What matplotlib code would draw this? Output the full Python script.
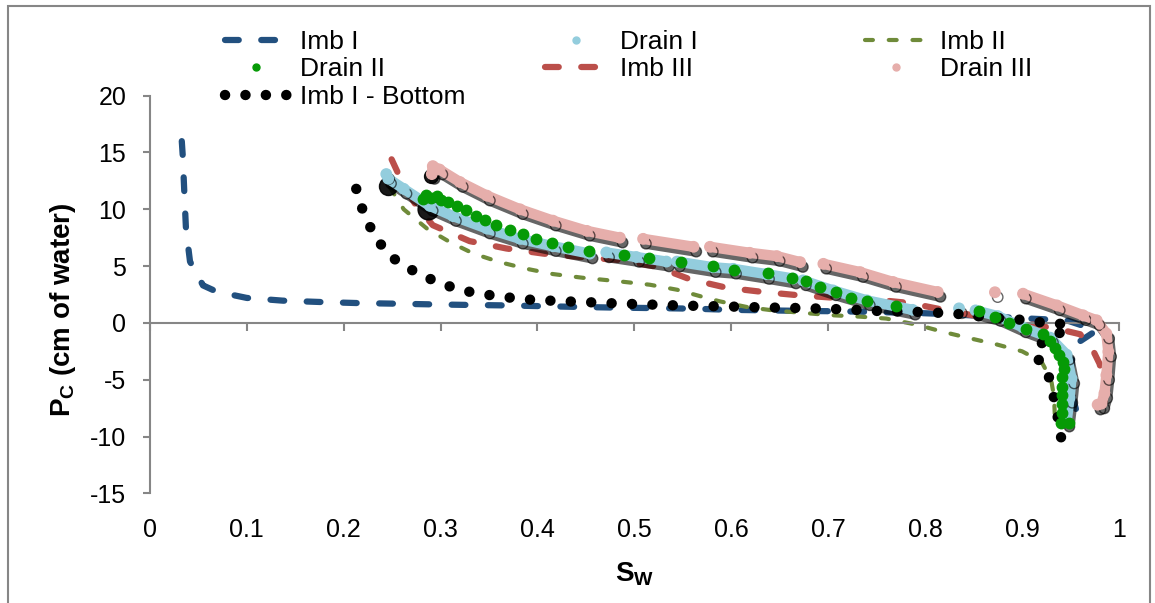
import matplotlib
matplotlib.use("Agg")
from matplotlib import rcParams, pyplot as plt
from matplotlib import patheffects as pe
from matplotlib.lines import Line2D
from matplotlib.patches import Rectangle
from matplotlib.transforms import offset_copy
import numpy as np

rcParams['font.family'] = ['Liberation Sans', 'DejaVu Sans']
rcParams['mathtext.fontset'] = 'custom'
rcParams['mathtext.rm'] = 'Liberation Sans'
rcParams['mathtext.bf'] = 'Liberation Sans:bold'
rcParams['mathtext.it'] = 'Liberation Sans:italic'
rcParams['axes.unicode_minus'] = False

GRAY = "#868686"
NAN = np.nan

# series (Sw, Pc in cm of water); NaN marks gaps in the marker runs
imb_i_sw = [0.033, 0.034, 0.0356, 0.0373, 0.0415, 0.0549, 0.069, 0.100, 0.137, 0.176, 0.213,
            0.255, 0.292, 0.330, 0.368, 0.406, 0.446, 0.485, 0.525, 0.562, 0.600, 0.640,
            0.678, 0.715, 0.753, 0.791, 0.830, 0.870, 0.908, 0.946, 0.977, 0.953, 0.950,
            0.952, 0.957, 0.960]
imb_i_pc = [16.0, 14.7, 11.5, 8.3, 5.4, 3.3, 2.75, 2.2, 1.96, 1.84, 1.75,
            1.69, 1.63, 1.58, 1.54, 1.47, 1.40, 1.34, 1.30, 1.25, 1.15, 1.10,
            1.05, 1.02, 0.95, 0.88, 0.75, 0.55, 0.38, 0.23, -0.65, -2.0, -4.5,
            -6.5, -8.0, -8.6]

drain_i_sw = [0.244, 0.246, 0.262, 0.289, 0.313, 0.348, 0.382, 0.416, 0.454, NAN,
              0.471, 0.502, 0.533, NAN, 0.544, 0.581, 0.602, 0.636, 0.664, NAN,
              0.674, 0.705, 0.740, 0.787, NAN, 0.835, NAN, 0.852, 0.875, 0.901, 0.929,
              0.946, 0.951, 0.949, 0.946]
drain_i_pc = [13.1, 12.7, 11.8, 10.3, 9.4, 8.3, 7.4, 6.75, 6.1, NAN,
              6.2, 5.8, 5.4, NAN, 5.4, 4.9, 4.76, 4.3, 3.9, NAN,
              3.74, 2.86, 1.98, 1.15, NAN, 1.28, NAN, 1.1, 0.6, -0.4, -1.3,
              -2.8, -4.9, -6.6, -8.7]

imb_ii_sw = [0.248, 0.262, 0.286, 0.310, 0.334, 0.361, 0.389, 0.416, 0.447, 0.482, 0.516,
             0.544, 0.568, 0.588, 0.616, 0.643, 0.674, 0.705, 0.733, 0.760, 0.791, 0.819,
             0.846, 0.874, 0.900, 0.920, 0.930, 0.933, 0.934, 0.935]
imb_ii_pc = [11.9, 10.0, 8.3, 7.1, 6.1, 5.35, 4.76, 4.3, 3.97, 3.68, 3.36,
             2.92, 2.35, 1.9, 1.4, 1.1, 0.88, 0.67, 0.55, 0.38, -0.15, -0.8,
             -1.35, -1.9, -2.5, -3.4, -5.0, -6.5, -8.5, -9.0]

drain_ii_sw = [0.282, 0.285, 0.290, 0.296, 0.300, 0.308, 0.317, 0.326, 0.337, 0.346, 0.357,
               0.372, 0.385, 0.399, 0.415, 0.432, 0.453, 0.489, 0.515, 0.548, 0.581, 0.603,
               0.638, 0.663, 0.677, 0.692, 0.708, 0.724, 0.740, 0.770, 0.856, 0.872, 0.887,
               0.904, 0.922, 0.929, 0.934, 0.938, 0.942, 0.943, 0.941, 0.941, 0.941, 0.941,
               0.941, 0.940, 0.948]
drain_ii_pc = [10.9, 11.3, 11.0, 11.2, 10.8, 10.67, 10.3, 9.9, 9.44, 9.06, 8.65,
               8.2, 7.82, 7.42, 7.05, 6.72, 6.37, 6.0, 5.7, 5.35, 5.0, 4.7,
               4.35, 3.97, 3.65, 3.2, 2.72, 2.22, 1.9, 1.46, 1.05, 0.5, 0.0,
               -0.53, -0.97, -1.63, -2.2, -2.8, -3.4, -4.1, -4.8, -5.6, -6.35, -7.1,
               -7.95, -8.83, -8.83]

imb_iii_sw = [0.2495, 0.256, 0.265, 0.275, 0.292, 0.330, 0.368, 0.406, 0.444, 0.482, 0.523,
              0.557, 0.595, 0.633, 0.671, 0.709, 0.746, 0.784, 0.822, 0.860, 0.900, 0.935,
              0.960, 0.972, 0.980, 0.984, 0.985, 0.986]
imb_iii_pc = [14.4, 13.2, 11.7, 10.3, 8.6, 7.2, 6.55, 6.1, 5.8, 5.55, 4.95,
              3.85, 3.1, 2.72, 2.42, 2.2, 2.07, 1.75, 1.1, 0.5, 0.0, -0.5,
              -1.0, -2.2, -3.6, -5.0, -6.5, -7.5]

drain_iii_sw = [0.291, 0.292, 0.299, 0.320, 0.348, 0.382, 0.416, 0.451, 0.485, NAN,
                0.509, 0.561, NAN, 0.578, 0.619, 0.647, 0.671, NAN, 0.695, 0.733, 0.767,
                0.813, NAN, 0.872, NAN, 0.901, 0.936, 0.963, 0.977, 0.987, 0.989, 0.987,
                0.985, 0.982, 0.978]
drain_iii_pc = [13.1, 13.8, 13.5, 12.4, 11.2, 10.0, 9.0, 8.1, 7.5, NAN,
                7.4, 6.7, NAN, 6.7, 6.17, 5.88, 5.35, NAN, 5.2, 4.47, 3.6,
                2.72, NAN, 2.7, NAN, 2.57, 1.54, 0.67, 0.23, -0.94, -2.54, -4.6,
                -6.2, -7.1, -7.2]

bottom_sw = [0.213, 0.219, 0.227, 0.2375, 0.251, 0.268, 0.287, 0.306, 0.326, 0.346, 0.366,
             0.387, 0.408, 0.428, 0.449, 0.470, 0.490, 0.511, 0.552, 0.594, 0.635, 0.676,
             0.717, 0.759, 0.800, 0.841, 0.860, 0.903, 0.923, 0.944, 0.948, 0.920, 0.913,
             0.925, 0.931, 0.934, 0.938, 0.941]
bottom_pc = [11.8, 10.1, 8.5, 7.0, 5.7, 4.76, 3.95, 3.3, 2.8, 2.5, 2.28,
             2.07, 1.98, 1.9, 1.84, 1.75, 1.69, 1.63, 1.52, 1.45, 1.36, 1.3,
             1.19, 1.02, 0.96, 0.75, 0.53, 0.25, 0.0, -0.1, -0.44, -1.8, -2.8,
             -4.1, -5.6, -7.2, -8.8, -10.5]

series_names = ["Imb I", "Drain I", "Imb II", "Drain II", "Imb III", "Drain III", "Imb I - Bottom"]
x_ticks = [0, 0.1, 0.2, 0.3, 0.4, 0.5, 0.6, 0.7, 0.8, 0.9, 1]
x_tick_labels = ["0", "0.1", "0.2", "0.3", "0.4", "0.5", "0.6", "0.7", "0.8", "0.9", "1"]
y_ticks = [-15, -10, -5, 0, 5, 10, 15, 20]

C_IMB_I = "#22507f"
C_DRAIN_I = "#93cddd"
C_IMB_II = "#6f8b3a"
C_DRAIN_II = "#069a06"
C_IMB_III = "#bb4f4a"
C_DRAIN_III = "#e6aeab"

fig = plt.figure(figsize=(11.55, 6.03), dpi=100)
ax = fig.add_axes([0.1297, 0.1819, 0.8391, 0.6594])

shadow = [pe.SimpleLineShadow(offset=(2, -3.5), shadow_color="black", alpha=0.6), pe.Normal()]

ax.plot(imb_i_sw, imb_i_pc, color=C_IMB_I, lw=4.5, ls=(0, (2.2, 3.6)),
        dash_capstyle="round", zorder=2)
ax.plot(imb_ii_sw, imb_ii_pc, color=C_IMB_II, lw=3, ls=(0, (1.9, 3.8)),
        dash_capstyle="round", zorder=2.1)
ax.plot(imb_iii_sw, imb_iii_pc, color=C_IMB_III, lw=4.5, ls=(0, (2.2, 3.6)),
        dash_capstyle="round", zorder=2.2)

# dark blobs under the first markers of the drainage runs
for sw, pc, dx, dy, size in [(drain_i_sw, drain_i_pc, 2, -12, 13),
                             (drain_ii_sw, drain_ii_pc, 5, -10, 15),
                             (drain_iii_sw, drain_iii_pc, -1, -2, 10)]:
    blob = offset_copy(ax.transData, fig=fig, x=dx, y=dy, units="dots")
    ax.plot(sw[:1], pc[:1], ls="none", marker="o", ms=size, color="black", alpha=0.9,
            transform=blob, zorder=2.5)

ax.plot(drain_i_sw, drain_i_pc, color=C_DRAIN_I, lw=7.5, solid_capstyle="round",
        marker="o", ms=7.5, path_effects=shadow, zorder=3)
ax.plot(drain_iii_sw, drain_iii_pc, color=C_DRAIN_III, lw=7.5, solid_capstyle="round",
        marker="o", ms=7.5, path_effects=shadow, zorder=3.1)
ax.plot(bottom_sw, bottom_pc, color="black", lw=7.5, ls=(0, (0.01, 1.95)),
        dash_capstyle="round", zorder=3.2)
ax.plot(drain_ii_sw, drain_ii_pc, ls="none", marker="o", ms=7.5, color=C_DRAIN_II, zorder=3.3)

ax.set_xlim(0, 1)
ax.set_ylim(-15, 20)
ax.set_xticks(x_ticks, x_tick_labels)
ax.set_yticks(y_ticks)
for side in ("top", "right"):
    ax.spines[side].set_visible(False)
ax.spines["bottom"].set_position(("data", 0))
for side in ("left", "bottom"):
    ax.spines[side].set_color(GRAY)
    ax.spines[side].set_linewidth(1.5)
ax.tick_params(axis="x", direction="out", length=5.8, width=1.5, color=GRAY, pad=134.4, labelsize=18)
ax.tick_params(axis="y", direction="out", length=5, width=1.5, color=GRAY, pad=12, labelsize=18)
ax.patch.set_visible(False)

ax.set_xlabel(r"$\mathbf{S_W}$", fontsize=20)
ax.xaxis.set_label_coords(0.5, -0.168)
ax.set_ylabel(r"$\mathbf{P_C}$ (cm of water)", fontsize=20, fontweight="bold")
ax.yaxis.set_label_coords(-0.074, 0.461)

# legend handles
h = {
    "Imb I": Line2D([], [], color=C_IMB_I, lw=4.5, ls=(0, (2.2, 3.6)), dash_capstyle="round"),
    "Drain I": Line2D([], [], ls="none", marker="o", ms=5, color=C_DRAIN_I),
    "Imb II": Line2D([], [], color=C_IMB_II, lw=3, ls=(0, (1.9, 3.8)), dash_capstyle="round"),
    "Drain II": Line2D([], [], ls="none", marker="o", ms=5, color=C_DRAIN_II),
    "Imb III": Line2D([], [], color=C_IMB_III, lw=4.5, ls=(0, (2.2, 3.6)), dash_capstyle="round"),
    "Drain III": Line2D([], [], ls="none", marker="o", ms=5, color=C_DRAIN_III),
    "Imb I - Bottom": Line2D([], [], color="black", lw=7.5, ls=(0, (0.01, 1.95)),
                             dash_capstyle="round"),
}
columns = [(225, [series_names[0], series_names[3], series_names[6]]),
           (545, [series_names[1], series_names[4]]),
           (865, [series_names[2], series_names[5]])]
for x_px, names in columns:
    fig.legend([h[n] for n in names], names, loc="upper left",
               bbox_to_anchor=(x_px / 1155, 1 - 30 / 603), frameon=False, fontsize=19,
               handlelength=2.35, handletextpad=0.5, labelspacing=0.13,
               borderpad=0, borderaxespad=0)

fig.patches.append(Rectangle((8 / 1155, -0.05), (1150 - 8) / 1155, 1.05 - 6 / 603,
                             transform=fig.transFigure, fill=False, edgecolor=GRAY, lw=1.5))

fig.savefig("out.png", dpi=100)
